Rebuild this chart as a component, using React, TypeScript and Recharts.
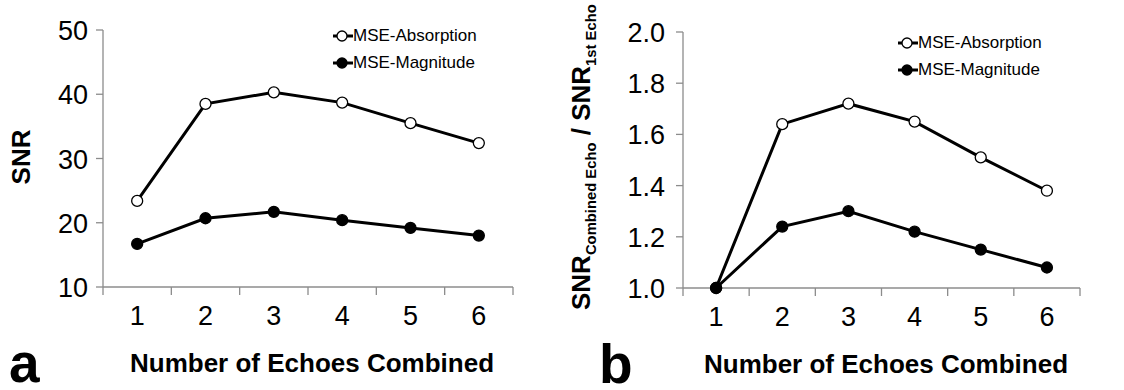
import React from 'react';
import { LineChart, Line, XAxis, YAxis, Legend } from 'recharts';

// number of echoes combined
const echoes = [1, 2, 3, 4, 5, 6];
const xTicks = [0.5, 1, 1.5, 2, 2.5, 3, 3.5, 4, 4.5, 5, 5.5, 6, 6.5];

// panel a: SNR
const snrAbsorption = [23.4, 38.5, 40.3, 38.7, 35.5, 32.4];
const snrMagnitude = [16.7, 20.7, 21.7, 20.4, 19.2, 18.0];
const snrTicks = [10, 20, 30, 40, 50];

// panel b: SNR relative to the first echo
const ratioAbsorption = [1.0, 1.64, 1.72, 1.65, 1.51, 1.38];
const ratioMagnitude = [1.0, 1.24, 1.3, 1.22, 1.15, 1.08];
const ratioTicks = [1.0, 1.2, 1.4, 1.6, 1.8, 2.0];

const seriesNames = ['MSE-Absorption', 'MSE-Magnitude'];

const FONT = '"Liberation Sans", Arial, sans-serif';
const AXIS_GRAY = '#8c8c8c';

const dataA = echoes.map((n, i) => ({ n, absorption: snrAbsorption[i], magnitude: snrMagnitude[i] }));
const dataB = echoes.map((n, i) => ({ n, absorption: ratioAbsorption[i], magnitude: ratioMagnitude[i] }));

function EchoTick(props: any) {
  const { x, y, payload } = props;
  const v = payload.value;
  if (Number.isInteger(v)) {
    return (
      <text x={x} y={y + 38} textAnchor="middle" fontSize={27} fontFamily={FONT} fill="#000">
        {v}
      </text>
    );
  }
  return <line x1={x} x2={x} y1={y} y2={y + 8} stroke={AXIS_GRAY} strokeWidth={1.3} />;
}

function ValueTick(props: any) {
  const { x, y, payload, digits } = props;
  return (
    <text x={x} y={y} dy={10} textAnchor="end" fontSize={27} fontFamily={FONT} fill="#000">
      {payload.value.toFixed(digits)}
    </text>
  );
}

function LegendBox({ left, top }: { left: number; top: number }) {
  return (
    <div style={{ position: 'absolute', left, top, fontFamily: FONT, fontSize: 17, lineHeight: '27px' }}>
      {seriesNames.map((name, i) => (
        <div key={name} style={{ display: 'flex', alignItems: 'center', height: 27 }}>
          <svg width={20} height={14}>
            <line x1={0} x2={20} y1={7} y2={7} stroke="#000" strokeWidth={3} />
            <circle cx={9} cy={7} r={5} fill={i === 0 ? '#fff' : '#000'} stroke="#000" strokeWidth={1.3} />
          </svg>
          <span style={{ color: '#000' }}>{name}</span>
        </div>
      ))}
    </div>
  );
}

function TitleA() {
  return (
    <g fontFamily={FONT} fontWeight="bold" fill="#000">
      <text x={312} y={372} textAnchor="middle" fontSize={26}>Number of Echoes Combined</text>
      <text x={9} y={382} fontSize={55}>a</text>
    </g>
  );
}

function SideTitleA() {
  return (
    <text
      x={0}
      y={0}
      transform="translate(30, 157) rotate(-90)"
      textAnchor="middle"
      fontFamily={FONT}
      fontWeight="bold"
      fontSize={26}
      fill="#000"
    >
      SNR
    </text>
  );
}

function TitleB() {
  return (
    <g fontFamily={FONT} fontWeight="bold" fill="#000">
      <text x={326} y={373} textAnchor="middle" fontSize={26}>Number of Echoes Combined</text>
      <text x={39} y={383} fontSize={55}>b</text>
    </g>
  );
}

function SideTitleB() {
  return (
    <text
      x={0}
      y={0}
      transform="translate(30, 310) rotate(-90)"
      textAnchor="start"
      fontFamily={FONT}
      fontWeight="bold"
      fontSize={26}
      fill="#000"
    >
      SNR
      <tspan fontSize={14.8} dy={6}>Combined Echo</tspan>
      <tspan dy={-6}> / SNR</tspan>
      <tspan fontSize={14.8} dy={6}>1st Echo</tspan>
    </text>
  );
}

const dotOpen = { r: 5.5, fill: '#fff', stroke: '#000', strokeWidth: 1.3 };
const dotFilled = { r: 5.5, fill: '#000', stroke: '#000', strokeWidth: 1.3 };

export default function App() {
  return (
    <div style={{ position: 'absolute', left: 0, top: 0, width: 1124, height: 390, background: '#fff' }}>
      <div style={{ position: 'absolute', left: 0, top: 0 }}>
        <LineChart width={560} height={390} data={dataA} margin={{ top: 30, right: 47, left: 0, bottom: 63 }}>
          <XAxis
            dataKey="n"
            type="number"
            domain={[0.5, 6.5]}
            ticks={xTicks}
            interval={0}
            height={40}
            tickSize={0}
            tickMargin={0}
            tickLine={false}
            tick={<EchoTick />}
            axisLine={{ stroke: AXIS_GRAY, strokeWidth: 1.3 }}
            label={<TitleA />}
          />
          <YAxis
            type="number"
            domain={[10, 50]}
            ticks={snrTicks}
            interval={0}
            width={103}
            tickSize={7}
            tickMargin={8}
            tick={<ValueTick digits={0} />}
            tickLine={{ stroke: AXIS_GRAY, strokeWidth: 1.3 }}
            axisLine={{ stroke: AXIS_GRAY, strokeWidth: 1.3 }}
            label={<SideTitleA />}
          />
          <Legend content={() => <LegendBox left={333} top={22} />} wrapperStyle={{ position: 'absolute', left: 0, top: 0 }} />
          <Line dataKey="absorption" name={seriesNames[0]} stroke="#000" strokeWidth={3} dot={dotOpen} isAnimationActive={false} />
          <Line dataKey="magnitude" name={seriesNames[1]} stroke="#000" strokeWidth={3} dot={dotFilled} isAnimationActive={false} />
        </LineChart>
      </div>
      <div style={{ position: 'absolute', left: 560, top: 0 }}>
        <LineChart width={564} height={390} data={dataB} margin={{ top: 32, right: 44, left: 0, bottom: 62 }}>
          <XAxis
            dataKey="n"
            type="number"
            domain={[0.5, 6.5]}
            ticks={xTicks}
            interval={0}
            height={40}
            tickSize={0}
            tickMargin={0}
            tickLine={false}
            tick={<EchoTick />}
            axisLine={{ stroke: AXIS_GRAY, strokeWidth: 1.3 }}
            label={<TitleB />}
          />
          <YAxis
            type="number"
            domain={[1, 2]}
            ticks={ratioTicks}
            interval={0}
            width={123}
            tickSize={7}
            tickMargin={11}
            tick={<ValueTick digits={1} />}
            tickLine={{ stroke: AXIS_GRAY, strokeWidth: 1.3 }}
            axisLine={{ stroke: AXIS_GRAY, strokeWidth: 1.3 }}
            label={<SideTitleB />}
          />
          <Legend content={() => <LegendBox left={338} top={29} />} wrapperStyle={{ position: 'absolute', left: 0, top: 0 }} />
          <Line dataKey="absorption" name={seriesNames[0]} stroke="#000" strokeWidth={3} dot={dotOpen} isAnimationActive={false} />
          <Line dataKey="magnitude" name={seriesNames[1]} stroke="#000" strokeWidth={3} dot={dotFilled} isAnimationActive={false} />
        </LineChart>
      </div>
    </div>
  );
}
